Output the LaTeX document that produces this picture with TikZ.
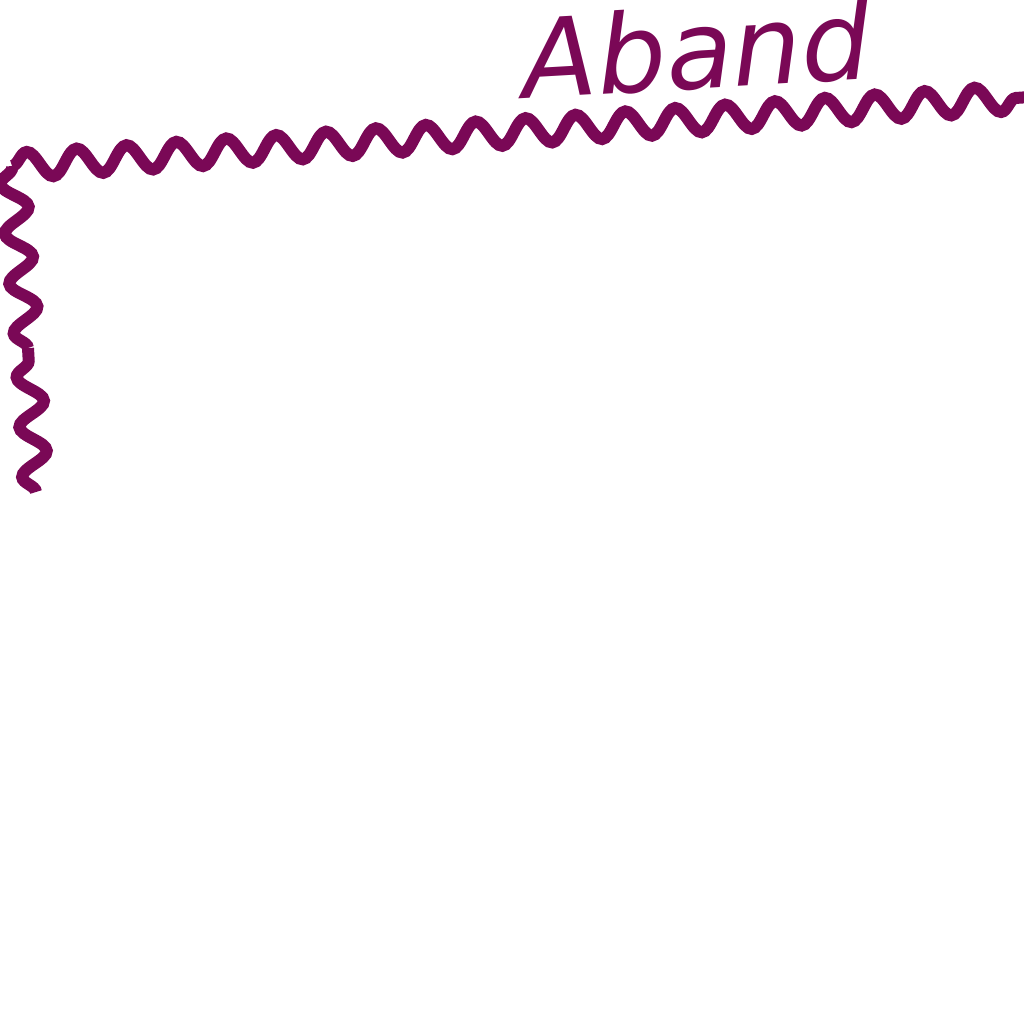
\documentclass[tikz,border=0pt]{standalone}
\usepackage{fontspec}
\setsansfont{DejaVu Sans}
\usetikzlibrary{decorations.pathmorphing}
\definecolor{bandpurple}{RGB}{122,8,86}

\begin{document}
\begin{tikzpicture}[x=0.1mm,y=0.1mm]
\tikzset{
  bandline/.style={draw=bandpurple,line width=1.2mm,decorate,decoration={snake,segment length=5mm,amplitude=1.3mm}},
  bandlabel/.style={text=bandpurple,font=\sffamily\itshape\fontsize{31}{31}\selectfont,inner sep=0pt,anchor=base west,rotate=3.3}
}
\useasboundingbox (0,0) rectangle (1024,-1024);
\coordinate (c_bl) at (36,-492);
\coordinate (c_ml) at (28,-348);
\coordinate (c_tl) at (12,-166);
\coordinate (c_tr) at (1030,-97);
\node[bandlabel] (t_aband) at (524,-99) {Aband};
% left side, two pieces
\draw[bandline] (c_bl) -- (c_ml);
\draw[bandline] (c_ml) -- (c_tl);
% top side
\draw[bandline] (c_tl) -- (c_tr);
\end{tikzpicture}
\end{document}
